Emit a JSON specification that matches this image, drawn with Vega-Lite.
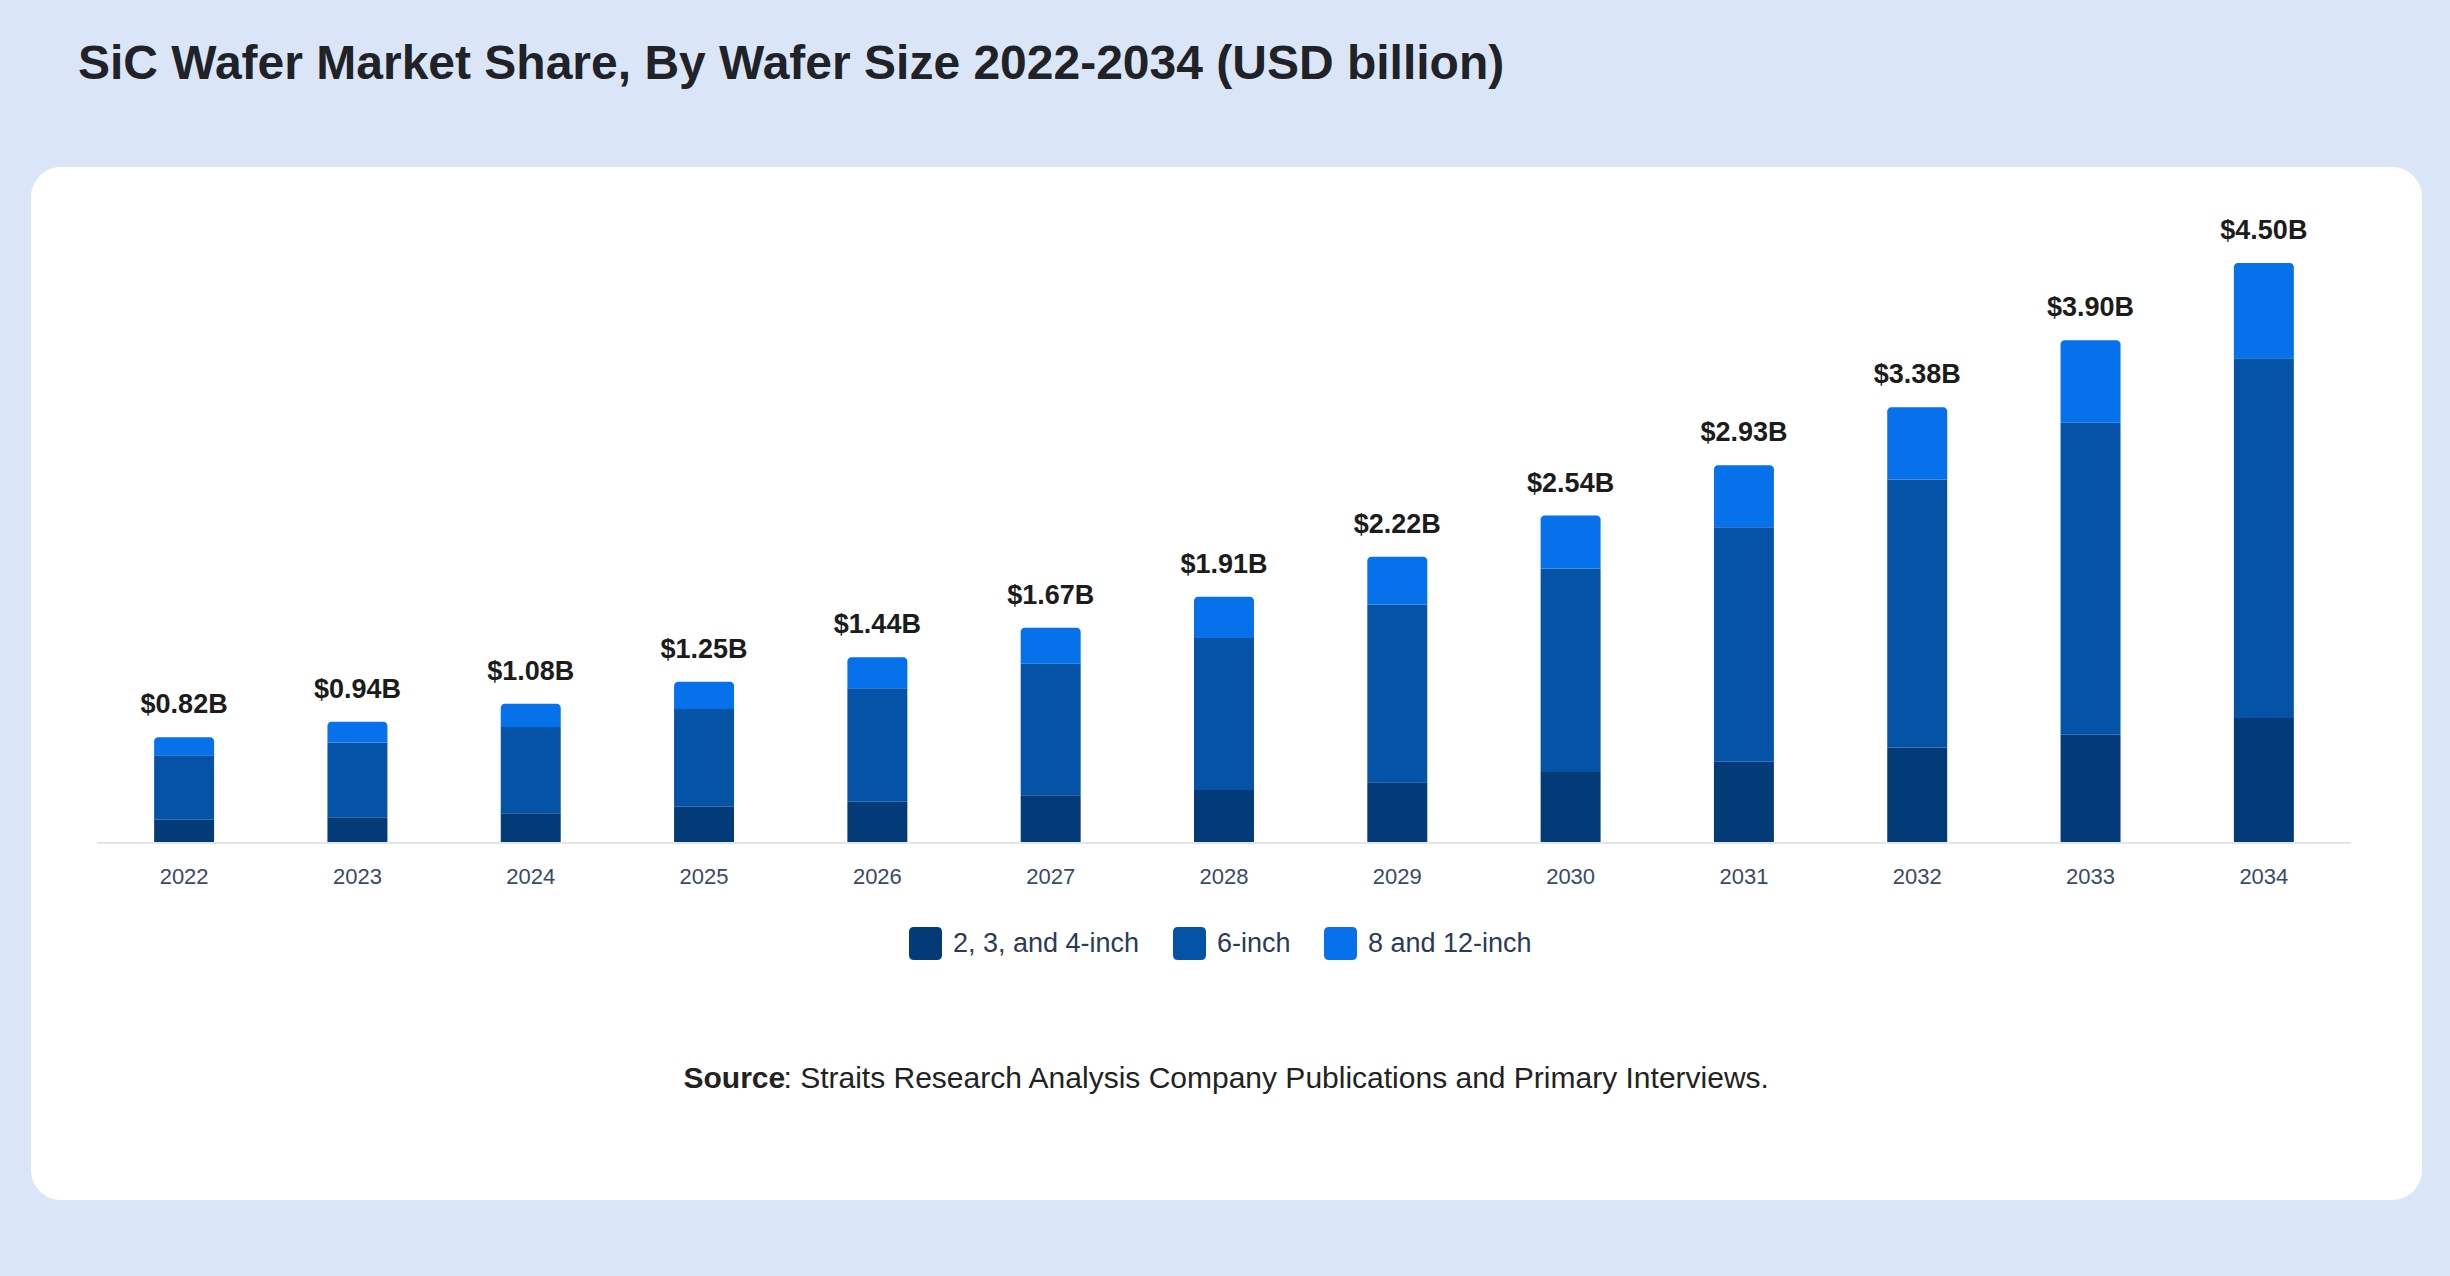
{
  "$schema": "https://vega.github.io/schema/vega-lite/v6.json",
  "width": 2391,
  "height": 1033,
  "autosize": {"type": "none"},
  "padding": {"left": 31, "top": 167, "right": 28, "bottom": 76},
  "background": "#dae6f8",
  "view": {"fill": "#ffffff", "stroke": null, "cornerRadius": 30},
  "config": {"font": "Liberation Sans"},
  "title": {
    "text": "SiC Wafer Market Share, By Wafer Size 2022-2034 (USD billion)",
    "anchor": "start",
    "frame": "group",
    "orient": "top",
    "baseline": "alphabetic",
    "offset": 40,
    "dx": 47,
    "fontSize": 48,
    "fontWeight": "bold",
    "color": "#1f2227"
  },
  "datasets": {
    "segments": [
      {"year": "2022", "size": "2, 3, and 4-inch", "value": 0.18},
      {"year": "2022", "size": "6-inch", "value": 0.50},
      {"year": "2022", "size": "8 and 12-inch", "value": 0.14},
      {"year": "2023", "size": "2, 3, and 4-inch", "value": 0.20},
      {"year": "2023", "size": "6-inch", "value": 0.58},
      {"year": "2023", "size": "8 and 12-inch", "value": 0.16},
      {"year": "2024", "size": "2, 3, and 4-inch", "value": 0.23},
      {"year": "2024", "size": "6-inch", "value": 0.67},
      {"year": "2024", "size": "8 and 12-inch", "value": 0.18},
      {"year": "2025", "size": "2, 3, and 4-inch", "value": 0.28},
      {"year": "2025", "size": "6-inch", "value": 0.76},
      {"year": "2025", "size": "8 and 12-inch", "value": 0.21},
      {"year": "2026", "size": "2, 3, and 4-inch", "value": 0.32},
      {"year": "2026", "size": "6-inch", "value": 0.88},
      {"year": "2026", "size": "8 and 12-inch", "value": 0.24},
      {"year": "2027", "size": "2, 3, and 4-inch", "value": 0.37},
      {"year": "2027", "size": "6-inch", "value": 1.02},
      {"year": "2027", "size": "8 and 12-inch", "value": 0.28},
      {"year": "2028", "size": "2, 3, and 4-inch", "value": 0.41},
      {"year": "2028", "size": "6-inch", "value": 1.18},
      {"year": "2028", "size": "8 and 12-inch", "value": 0.32},
      {"year": "2029", "size": "2, 3, and 4-inch", "value": 0.47},
      {"year": "2029", "size": "6-inch", "value": 1.38},
      {"year": "2029", "size": "8 and 12-inch", "value": 0.37},
      {"year": "2030", "size": "2, 3, and 4-inch", "value": 0.55},
      {"year": "2030", "size": "6-inch", "value": 1.58},
      {"year": "2030", "size": "8 and 12-inch", "value": 0.41},
      {"year": "2031", "size": "2, 3, and 4-inch", "value": 0.63},
      {"year": "2031", "size": "6-inch", "value": 1.82},
      {"year": "2031", "size": "8 and 12-inch", "value": 0.48},
      {"year": "2032", "size": "2, 3, and 4-inch", "value": 0.74},
      {"year": "2032", "size": "6-inch", "value": 2.08},
      {"year": "2032", "size": "8 and 12-inch", "value": 0.56},
      {"year": "2033", "size": "2, 3, and 4-inch", "value": 0.84},
      {"year": "2033", "size": "6-inch", "value": 2.42},
      {"year": "2033", "size": "8 and 12-inch", "value": 0.64},
      {"year": "2034", "size": "2, 3, and 4-inch", "value": 0.97},
      {"year": "2034", "size": "6-inch", "value": 2.79},
      {"year": "2034", "size": "8 and 12-inch", "value": 0.74}
    ],
    "totals": [
      {"year": "2022", "total": 0.82, "label": "$0.82B"},
      {"year": "2023", "total": 0.94, "label": "$0.94B"},
      {"year": "2024", "total": 1.08, "label": "$1.08B"},
      {"year": "2025", "total": 1.25, "label": "$1.25B"},
      {"year": "2026", "total": 1.44, "label": "$1.44B"},
      {"year": "2027", "total": 1.67, "label": "$1.67B"},
      {"year": "2028", "total": 1.91, "label": "$1.91B"},
      {"year": "2029", "total": 2.22, "label": "$2.22B"},
      {"year": "2030", "total": 2.54, "label": "$2.54B"},
      {"year": "2031", "total": 2.93, "label": "$2.93B"},
      {"year": "2032", "total": 3.38, "label": "$3.38B"},
      {"year": "2033", "total": 3.90, "label": "$3.90B"},
      {"year": "2034", "total": 4.50, "label": "$4.50B"}
    ]
  },
  "layer": [
    {
      "data": {"name": "segments"},
      "transform": [
        {"stack": "value", "groupby": ["year"], "sort": [{"field": "size", "order": "ascending"}], "as": ["v0", "v1"]},
        {"filter": "datum.size !== '8 and 12-inch'"}
      ],
      "mark": {"type": "bar"},
      "encoding": {
        "x": {
          "field": "year",
          "type": "nominal",
          "scale": {"paddingInner": 0.654, "paddingOuter": 0.725, "align": 0.49},
          "axis": {
            "orient": "bottom",
            "offset": -357,
            "domain": false,
            "ticks": false,
            "tickSize": 0,
            "grid": false,
            "labelAngle": 0,
            "labelFontSize": 22,
            "labelColor": "#3b4868",
            "labelPadding": 23,
            "title": ": Straits Research Analysis Company Publications and Primary Interviews.",
            "titleX": 752,
            "titleY": 244,
            "titleAlign": "left",
            "titleAnchor": null,
            "titleBaseline": "alphabetic",
            "titleFontSize": 30,
            "titleFontWeight": "normal",
            "titleColor": "#222222"
          }
        },
        "y": {
          "field": "v1",
          "type": "quantitative",
          "scale": {"domain": [-2.77, 5.244], "nice": false, "zero": false},
          "axis": {
            "orient": "left",
            "domain": false,
            "ticks": false,
            "labels": false,
            "grid": false,
            "title": "Source",
            "titleAngle": 0,
            "titleX": 652,
            "titleY": 920,
            "titleAlign": "left",
            "titleBaseline": "alphabetic",
            "titleFontSize": 30,
            "titleFontWeight": "bold",
            "titleColor": "#222222"
          }
        },
        "y2": {"field": "v0"},
        "color": {
          "field": "size",
          "type": "nominal",
          "scale": {
            "domain": ["2, 3, and 4-inch", "6-inch", "8 and 12-inch"],
            "range": ["#033b79", "#0453a6", "#0770eb"]
          },
          "legend": {
            "orient": "none",
            "legendX": 878,
            "legendY": 760,
            "direction": "horizontal",
            "columns": 3,
            "title": null,
            "padding": 0,
            "symbolType": "M-0.7,-1L0.7,-1Q1,-1,1,-0.7L1,0.7Q1,1,0.7,1L-0.7,1Q-1,1,-1,0.7L-1,-0.7Q-1,-1,-0.7,-1Z",
            "symbolSize": 1089,
            "symbolStrokeWidth": 0,
            "symbolOpacity": 1,
            "labelFontSize": 27,
            "labelLimit": 0,
            "labelColor": "#2c3a58",
            "labelOffset": 11,
            "columnPadding": 33
          }
        }
      }
    },
    {
      "data": {"name": "segments"},
      "transform": [
        {"stack": "value", "groupby": ["year"], "sort": [{"field": "size", "order": "ascending"}], "as": ["v0", "v1"]},
        {"filter": "datum.size === '8 and 12-inch'"}
      ],
      "mark": {"type": "bar", "cornerRadiusTopLeft": 4, "cornerRadiusTopRight": 4},
      "encoding": {
        "x": {"field": "year", "type": "nominal"},
        "y": {"field": "v1", "type": "quantitative"},
        "y2": {"field": "v0"},
        "color": {"field": "size", "type": "nominal"}
      }
    },
    {
      "data": {"name": "totals"},
      "mark": {"type": "rule", "color": "#e2e4e8", "strokeWidth": 2, "xOffset": -86.6, "x2Offset": 86.6},
      "encoding": {
        "x": {"datum": "2022", "type": "nominal"},
        "x2": {"datum": "2034"},
        "y": {"datum": 0, "type": "quantitative"}
      }
    },
    {
      "data": {"name": "totals"},
      "mark": {"type": "text", "baseline": "alphabetic", "dy": -24, "fontSize": 27, "fontWeight": "bold", "color": "#1c1c1c"},
      "encoding": {
        "x": {"field": "year", "type": "nominal"},
        "y": {"field": "total", "type": "quantitative"},
        "text": {"field": "label"}
      }
    }
  ]
}
